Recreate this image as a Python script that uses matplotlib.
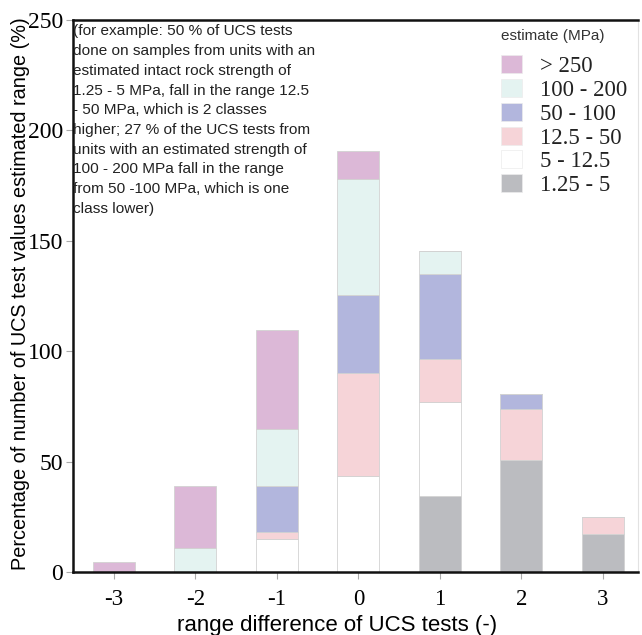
import matplotlib
matplotlib.use("Agg")
import matplotlib.pyplot as plt
import numpy as np

categories = [-3, -2, -1, 0, 1, 2, 3]
tick_labels = ["-3", "-2", "-1", "0", "1", "2", "3"]

# stacked segment heights (bottom to top)
seg_125_5 = [0, 0, 0, 0, 34.2, 50.6, 17.3]
seg_5_125 = [0, 0, 14.9, 43.3, 42.8, 0, 0]
seg_125_50 = [0, 0, 3.0, 46.7, 19.4, 23.4, 7.4]
seg_50_100 = [0, 0, 20.9, 35.6, 38.6, 6.8, 0]
seg_100_200 = [0, 10.8, 26.1, 52.6, 10.3, 0, 0]
seg_gt250 = [4.5, 28.0, 44.8, 12.3, 0, 0, 0]

series = [seg_125_5, seg_5_125, seg_125_50, seg_50_100, seg_100_200, seg_gt250]
labels = ["1.25 - 5", "5 - 12.5", "12.5 - 50", "50 - 100", "100 - 200", "> 250"]
colors = ["#bbbcc0", "#ffffff", "#f6d4d8", "#b2b6dd", "#e4f3f1", "#dcb8d7"]

annotation = ("(for example: 50 % of UCS tests\n"
              "done on samples from units with an\n"
              "estimated intact rock strength of\n"
              "1.25 - 5 MPa, fall in the range 12.5\n"
              "- 50 MPa, which is 2 classes\n"
              "higher; 27 % of the UCS tests from\n"
              "units with an estimated strength of\n"
              "100 - 200 MPa fall in the range\n"
              "from 50 -100 MPa, which is one\n"
              "class lower)")

fig = plt.figure(figsize=(6.42, 6.35), dpi=100)
ax = fig.add_axes([73 / 642, 1 - 572 / 635, 565 / 642, 552 / 635])

x = np.array(categories, dtype=float)
bottom = np.zeros(len(categories))
handles = []
for vals, lab, col in zip(series, labels, colors):
    v = np.array(vals, dtype=float)
    b = ax.bar(x, v, width=0.515, bottom=bottom, color=col,
               edgecolor="#d2d2d2", linewidth=0.6, label=lab)
    handles.append(b)
    bottom += v

ax.set_xlim(-3.5, 3.43)
ax.set_ylim(0, 250)
ax.set_xticks(categories)
ax.set_xticklabels(tick_labels, family="Liberation Serif", fontsize=16.5)
ax.set_yticks([0, 50, 100, 150, 200, 250])
ax.set_yticklabels(["0", "50", "100", "150", "200", "250"],
                   family="Liberation Serif", fontsize=17)
ax.tick_params(axis="both", length=5, width=0.8, color="#aaaaaa")
ax.tick_params(axis="x", pad=7)
ax.tick_params(axis="y", pad=2)

for s in ["left", "bottom", "top"]:
    ax.spines[s].set_linewidth(1.8)
    ax.spines[s].set_color("#111111")
ax.spines["right"].set_linewidth(0.8)
ax.spines["right"].set_color("#e2e2e2")

ax.set_xlabel("range difference of UCS tests (-)", family="Liberation Sans",
              fontsize=16)
ax.xaxis.set_label_coords((337 - 73) / 565, (572 - 625) / 552)
ax.xaxis.label.set_va("center")
ax.set_ylabel("Percentage of number of UCS test values estimated range (%)",
              family="Liberation Sans", fontsize=14.3)
ax.yaxis.set_label_coords((21 - 73) / 565, (572 - 294) / 552)
ax.yaxis.label.set_va("center")

ax.text(0.0, 0.992, annotation, transform=ax.transAxes, ha="left", va="top",
        family="Liberation Sans", fontsize=11.1, linespacing=1.52, color="#222222")

leg = ax.legend(handles[::-1], labels[::-1], title="estimate (MPa)",
                frameon=False, loc="upper left",
                bbox_to_anchor=(487 / 642, 1 - 15 / 635),
                bbox_transform=fig.transFigure,
                prop={"family": "Liberation Serif", "size": 16.4},
                handlelength=0.92, handleheight=0.85, handletextpad=0.8,
                labelspacing=0.08, borderpad=0.1)
leg.get_title().set_family("Liberation Sans")
leg.get_title().set_fontsize(11)
leg.get_title().set_color("#333333")
leg._legend_box.align = "left"
leg._legend_box.sep = 9
for t in leg.get_texts():
    t.set_color("#222222")
for h in leg.legend_handles:
    h.set_edgecolor("#ececec")
    h.set_linewidth(0.5)

fig.savefig("out.png", dpi=100)
